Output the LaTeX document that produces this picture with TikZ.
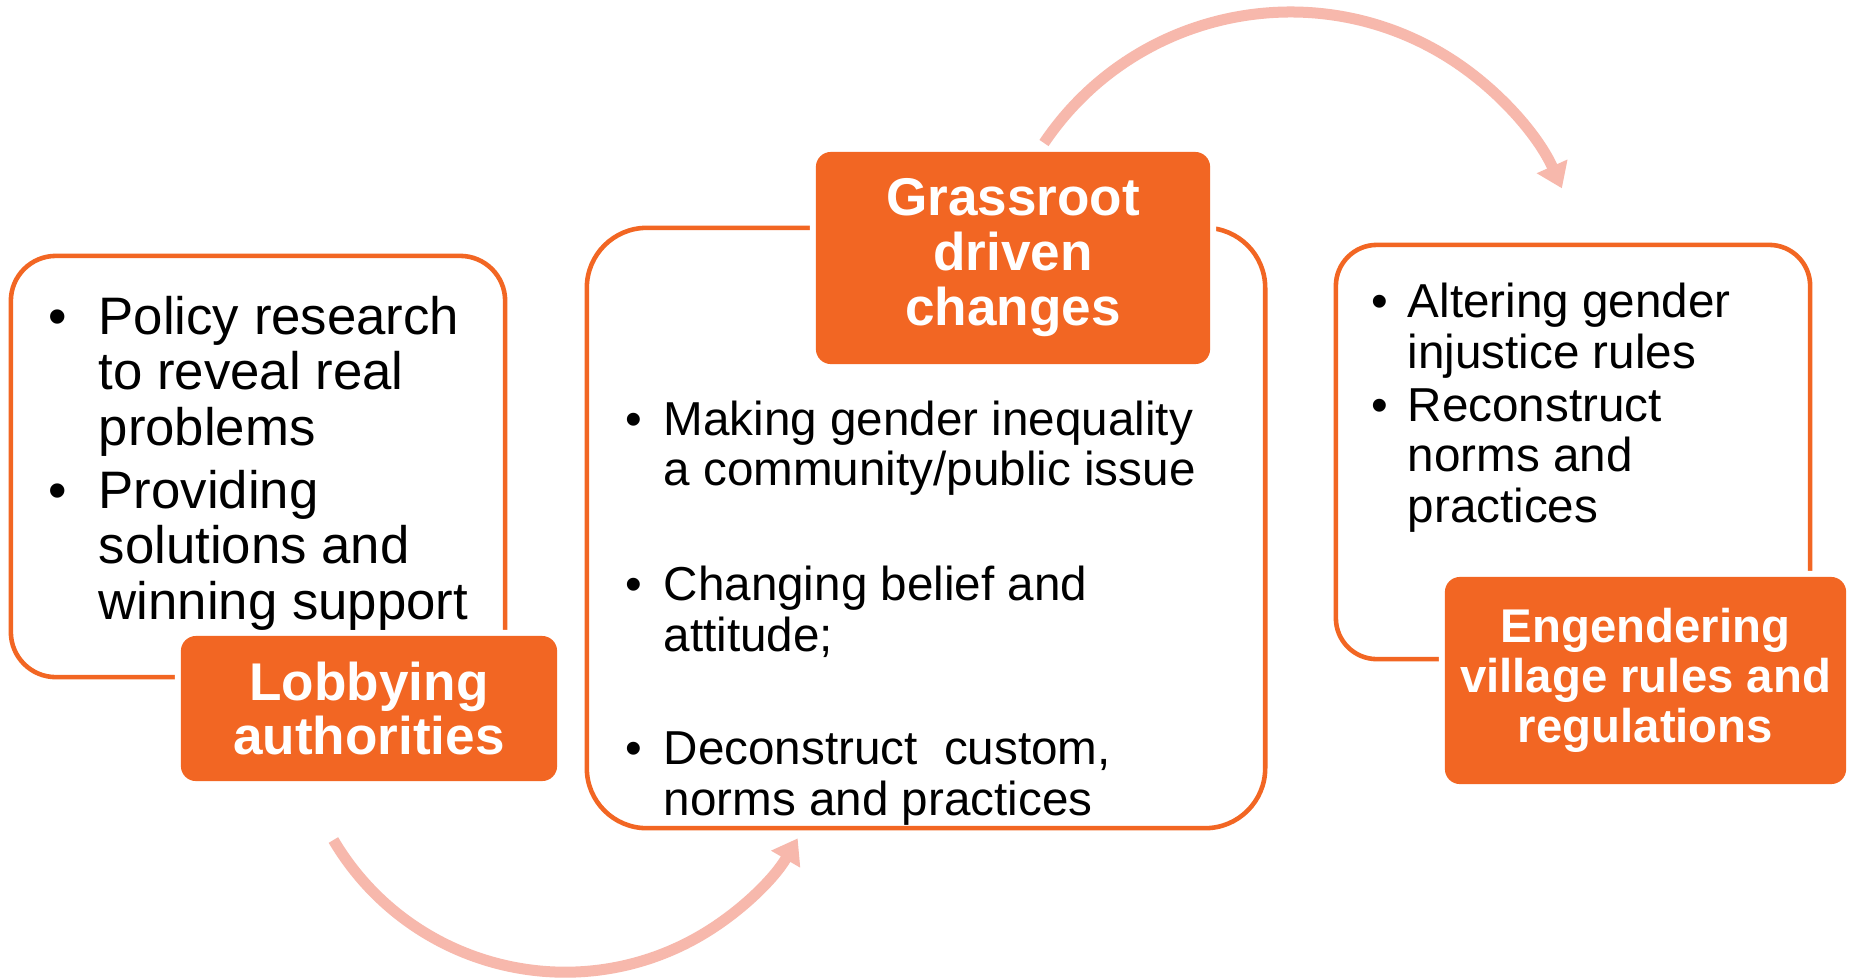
\documentclass[tikz,border=0pt]{standalone}
\usepackage{fontspec}
\setmainfont{Liberation Sans}
\usepackage{xcolor}
\usetikzlibrary{arrows.meta,positioning}
\definecolor{tagorange}{RGB}{242,102,35}
\definecolor{cyclepink}{RGB}{247,184,172}
\newcommand{\itembul}[1]{\llap{\textbullet\hspace{#1}}}
\tikzset{
    listbox/.style={
        draw=tagorange,
        line width=1.3pt,
        % fill=white,
    },
    tagbox/.style={
        fill=tagorange,
        text=white,
        align=center,
        rounded corners=0.15cm,
        preaction={draw=white, line width=0.12cm},
    },
    listtext/.style={
        anchor=base west,
        align=left,
        inner sep=0pt,
    },
    cyclearrow/.style={
        draw=cyclepink,
        line width=0.11cm,
        -{Triangle[length=0.24cm,width=0.32cm]},
    },
}

\begin{document}
\begin{tikzpicture}[x=0.01cm,y=0.01cm]
    \path[fill=white] (0,0) rectangle (1852,-978);
    \useasboundingbox (0,0) rectangle (1852,-978);
    \node[listbox, minimum width=4.94cm, minimum height=4.21cm, rounded corners=0.45cm] (lobbylist) at (258,-466.5) {};
    \node[listbox, minimum width=6.78cm, minimum height=6.00cm, rounded corners=0.6cm] (rootlist) at (926,-528) {};
    \node[listbox, minimum width=4.74cm, minimum height=4.14cm, rounded corners=0.41cm] (rulelist) at (1573,-452) {};
    \node[tagbox, minimum width=3.76cm, minimum height=1.45cm, font=\bfseries\fontsize{15.1pt}{15.2pt}\selectfont] (lobbytag) at (369,-708.5) {Lobbying\\authorities};
    \node[tagbox, minimum width=3.94cm, minimum height=2.12cm, font=\bfseries\fontsize{15.1pt}{15.65pt}\selectfont] (roottag) at (1013,-258) {Grassroot\\driven\\changes};
    \node[tagbox, minimum width=4.01cm, minimum height=2.07cm, font=\bfseries\fontsize{13.46pt}{14.2pt}\selectfont] (ruletag) at (1645.5,-680.5) {Engendering\\village rules and\\regulations};
    % left list (base = last line)
    \node[listtext, font=\fontsize{15pt}{15.65pt}\selectfont] (policy) at (98,-445) {\itembul{0.317cm}Policy research\\to reveal real\\problems};
    \node[listtext, font=\fontsize{15pt}{15.65pt}\selectfont] (solution) at (98,-619) {\itembul{0.317cm}Providing\\solutions and\\winning support};
    % middle list
    \node[listtext, font=\fontsize{13.54pt}{14.23pt}\selectfont] (inequality) at (663,-485.5) {\itembul{0.217cm}Making gender inequality\\a community/public issue};
    \node[listtext, font=\fontsize{13.54pt}{14.23pt}\selectfont] (belief) at (663,-651) {\itembul{0.217cm}Changing belief and\\attitude;};
    \node[listtext, font=\fontsize{13.54pt}{14.23pt}\selectfont] (custom) at (663,-815) {\itembul{0.217cm}Deconstruct\ \ custom,\\norms and practices};
    % right list
    \node[listtext, font=\fontsize{13.54pt}{14.23pt}\selectfont] (altering) at (1407,-368) {\itembul{0.197cm}Altering gender\\injustice rules};
    \node[listtext, font=\fontsize{13.54pt}{14.23pt}\selectfont] (rebuild) at (1407,-522) {\itembul{0.197cm}Reconstruct\\norms and\\practices};
    % cycle arrows
    \coordinate (topstart) at (1044,-143);
    \coordinate (lowstart) at (333.4,-840);
    \draw[cyclearrow] (topstart) arc[start angle=146, end angle=24, radius=2.97cm];
    \draw[cyclearrow] (lowstart) arc[start angle=210.6, end angle=329.8, radius=2.69cm];
\end{tikzpicture}
\end{document}
